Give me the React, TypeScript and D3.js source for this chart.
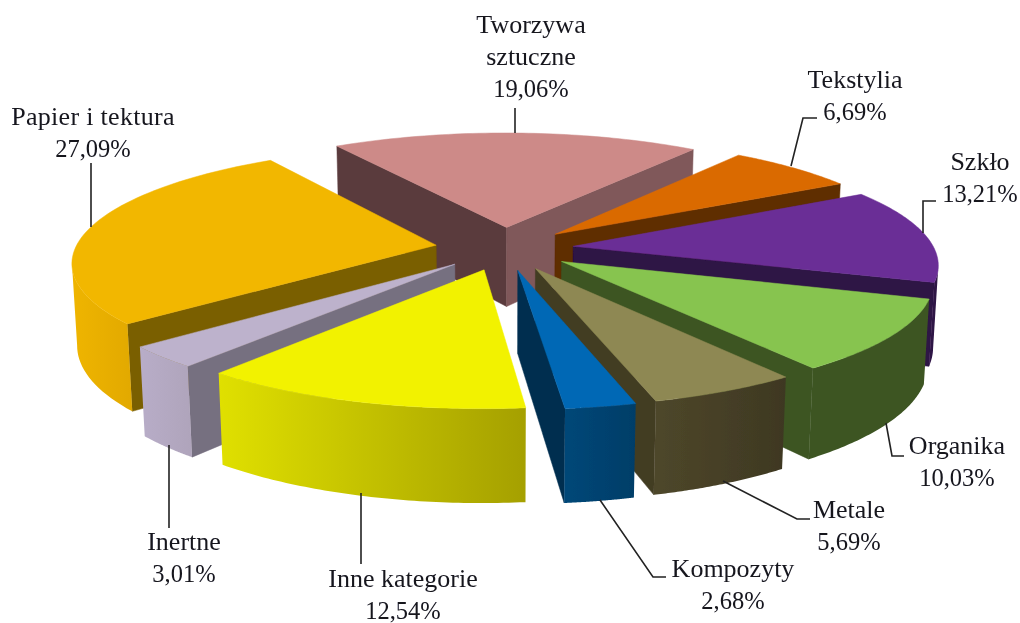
import React from 'react';
import * as d3 from 'd3';

const categories = ['Tworzywa sztuczne','Tekstylia','Szkło','Organika','Metale','Kompozyty','Inne kategorie','Inertne','Papier i tektura'];
const values = [19.06,6.69,13.21,10.03,5.69,2.68,12.54,3.01,27.09];
const valueLabels = ['19,06%','6,69%','13,21%','10,03%','5,69%','2,68%','12,54%','3,01%','27,09%'];
const topColors = ['#CD8A88','#DA6A05','#6A2E96','#87C44F','#8E8852','#0068B5','#F2F200','#BDB2CC','#F2B700'];
const startWall = ['#5A3A3C','#5E2D00','#2D1245','#3C5422','#433C24','#002F50','#888800','#766F80','#7A5E00'];
const endWall = ['#80585A','#5E2D00','#2D1245','#3C5422','#433C24','#002F50','#888800','#766F80','#7A5E00'];
const outerFrom = ['#80585A','#5E2D00','#2D1245','#3C5422','#4E472A','#004778','#E0E000','#B8ADC8','#EFB500'];
const outerTo = ['#80585A','#5E2D00','#2D1245','#3C5422','#3E3822','#003E68','#A5A000','#AFA4BB','#E2A900'];

// label layout: centre x, first baseline y; and leader polyline
const labelX = [531,855,980,957,849,733,403,184,93];
const labelY = [33,88,170,454,518,577,587,550,125];
const leaders: [number, number][][] = [
  [[515,108],[515,133]],
  [[791,166],[803,118],[817,118]],
  [[923,233],[923,201],[936,201]],
  [[886,423],[892,456],[904,456]],
  [[723,481],[797,519],[810,519]],
  [[600,500],[653,577],[666,577]],
  [[361,493],[361,564]],
  [[169,445],[169,528]],
  [[91,163],[91,227]],
];

const nameLines = categories.map(c => (c === 'Tworzywa sztuczne' ? c.split(' ') : [c]));

// View of the exploded 3-D pie (values found by fitting to the picture)
const view = { cx:504.395, cy:248.506, R:360.991, k:0.313, m:0.227, p:0.139, q:0.012, sk:0.003, d:0.192, rot:-0.564 };

type V = [number, number];
const total = d3.sum(values);
const base = values.map((v, i) => {
  const before = d3.sum(values.slice(0, i));
  return { a0: (before / total) * 2 * Math.PI, a1: ((before + v) / total) * 2 * Math.PI };
});

function proj(i: number, a: number | null, h: number): V {
  const P = view;
  const b = base[i];
  const mid = (b.a0 + b.a1) / 2 + P.rot;
  let x = P.d * Math.sin(mid), z = -P.d * Math.cos(mid);
  if (a !== null) { x += Math.sin(a + P.rot); z += -Math.cos(a + P.rot); }
  const s = 1 / (1 - P.p * z + P.q * h);
  return [P.cx + P.R * (x + P.sk * z) * s, P.cy + P.R * (P.k * z + P.m * h) * s];
}
const lineGen = d3.line<V>();

export default function App() {
  const order = d3.range(values.length).sort((x, y) => {
    const m = (i: number) => -Math.cos((base[i].a0 + base[i].a1) / 2 + view.rot);
    return m(x) - m(y);
  });
  return (
    <svg width={1020} height={623} style={{ position:'absolute', left:0, top:0, background:'#fff' }}>
      <defs>
        {values.map((_, i) => (
          <linearGradient key={i} id={`g${i}`} x1="0" x2="1" y1="0" y2="0">
            <stop offset="0" stopColor={outerFrom[i]} />
            <stop offset="1" stopColor={outerTo[i]} />
          </linearGradient>
        ))}
        <filter id="soft" x="-2%" y="-2%" width="104%" height="104%">
          <feGaussianBlur stdDeviation="0.45" />
        </filter>
      </defs>
      <g filter="url(#soft)">
        {order.map(i => {
          const { a0, a1 } = base[i];
          const N = 60;
          const as = d3.range(N + 1).map(j => a0 + (a1 - a0) * j / N);
          const topArc = as.map(a => proj(i, a, 0));
          const botArc = as.map(a => proj(i, a, 1));
          const apexT = proj(i, null, 0), apexB = proj(i, null, 1);
          const vis = as.slice(0, N).map((_, j) => topArc[j + 1][0] < topArc[j][0]);
          const tv = topArc.filter((_, j) => vis[j] || vis[j - 1]);
          const bv = botArc.filter((_, j) => vis[j] || vis[j - 1]).reverse();
          const C = proj(i, (a0 + a1) / 2, 0);
          const wallVisible = (B: V) => {
            const dx = B[0] - apexT[0], dy = B[1] - apexT[1];
            const cross = dx * (C[1] - apexT[1]) - dy * (C[0] - apexT[0]);
            return dx > 0 ? cross < 0 : cross > 0;
          };
          const walls = [
            { t: topArc[0], b: botArc[0], c: startWall[i] },
            { t: topArc[N], b: botArc[N], c: endWall[i] },
          ];
          return (
            <g key={i}>
              {walls.filter(w => wallVisible(w.t)).map((w, j) => (
                <path key={j} d={lineGen([apexT, w.t, w.b, apexB])! + 'Z'} fill={w.c} stroke={w.c} strokeWidth={0.5} />
              ))}
              {tv.length > 1 && <path d={lineGen([...tv, ...bv])! + 'Z'} fill={`url(#g${i})`} />}
              <path d={lineGen([apexT, ...topArc])! + 'Z'} fill={topColors[i]} stroke={topColors[i]} strokeWidth={0.5} />
            </g>
          );
        })}
        {leaders.map((pts, i) => (
          <path key={i} d={lineGen(pts)!} fill="none" stroke="#222" strokeWidth={1.6} />
        ))}
        {nameLines.map((ls, i) => (
          <text key={i} textAnchor="middle" fontFamily="'Liberation Serif', serif" fill="#15151f">
            {ls.map((t, j) => (
              <tspan key={j} x={labelX[i]} y={labelY[i] + j * 32} fontSize={26} letterSpacing={i === 8 ? 0.3 : 0}>{t}</tspan>
            ))}
            <tspan x={labelX[i]} y={labelY[i] + ls.length * 32} fontSize={24.5}>{valueLabels[i]}</tspan>
          </text>
        ))}
      </g>
    </svg>
  );
}
